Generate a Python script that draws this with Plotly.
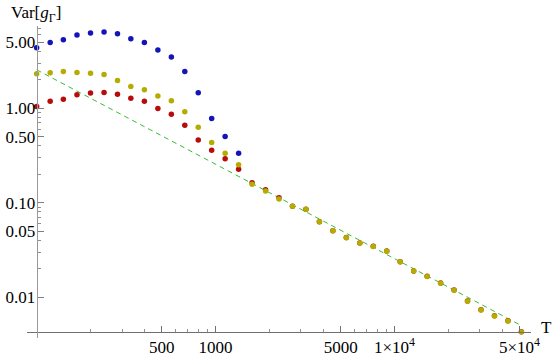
import plotly.graph_objects as go

# ---- data ----
T_vals = [100, 119, 141, 168, 200, 238, 283, 336, 400, 476, 566, 673, 800, 951,
          1131, 1345, 1600, 1903, 2263, 2691, 3200, 3805, 4525, 5382, 6400, 7611,
          9051, 10763, 12800, 15222, 18102, 21527, 25600, 30444, 36204, 43054, 51200]

blue_vals = [4.39, 4.99, 5.33, 5.98, 6.28, 6.44, 6.17, 5.47, 4.99, 4.15, 3.49,
             2.46, 1.46, 0.779, 0.502, 0.335]

yellow_vals = [2.32, 2.38, 2.46, 2.40, 2.36, 2.28, 1.97, 1.70, 1.57, 1.35, 1.20,
               0.918, 0.632, 0.434, 0.335, 0.253, 0.157, 0.133, 0.1095,
               0.0917, 0.0852, 0.0629, 0.0505, 0.0426, 0.0374, 0.0345, 0.0307,
               0.0237, 0.0189, 0.0166, 0.01406, 0.01186, 0.00906, 0.00732,
               0.00633, 0.00560, 0.00428]

red_vals = [1.045, 1.19, 1.25, 1.39, 1.45, 1.47, 1.41, 1.28, 1.19, 0.998, 0.868,
            0.663, 0.463, 0.360, 0.293, 0.226, 0.163, 0.1375, 0.113,
            0.0920, 0.0855, 0.0631, 0.0507, 0.0428, 0.0376, 0.0347, 0.0309,
            0.0238, 0.0190, 0.0167, 0.01412, 0.01190, 0.00910, 0.00735,
            0.00636, 0.00562, 0.00430]

# dashed reference line endpoints
line_T = [100, 51200]
line_vals = [2.56, 0.0050]

x_tickvals = [500, 1000, 5000, 10000, 50000]
x_ticktext = ["500", "1000", "5000", "1×10<sup>4</sup>", "5×10<sup>4</sup>"]
x_minor = [200, 300, 400, 600, 700, 800, 900, 2000, 3000, 4000, 6000, 7000,
           8000, 9000, 20000, 30000, 40000]

y_tickvals = [0.01, 0.05, 0.1, 0.5, 1, 5]
y_ticktext = ["0.01", "0.05", "0.10", "0.50", "1.00", "5.00"]
y_minor = [0.02, 0.03, 0.04, 0.06, 0.07, 0.08, 0.09, 0.2, 0.3, 0.4, 0.6, 0.7,
           0.8, 0.9, 2, 3, 4, 6, 7]

BLUE = "#1414b8"
YELLOW = "#b4ac00"
RED = "#b80c0c"
GREEN = "#38bb38"
FONT = "Liberation Serif, Times New Roman, DejaVu Serif, serif"
FS = 17

fig = go.Figure()
fig.add_trace(go.Scatter(x=line_T, y=line_vals, mode="lines",
                         line=dict(color=GREEN, width=1, dash="5px,4px"),
                         hoverinfo="skip"))
fig.add_trace(go.Scatter(x=T_vals[:len(blue_vals)], y=blue_vals, mode="markers",
                         marker=dict(color=BLUE, size=5.5, line=dict(width=0))))
fig.add_trace(go.Scatter(x=T_vals, y=red_vals, mode="markers",
                         marker=dict(color=RED, size=5.5, line=dict(width=0))))
fig.add_trace(go.Scatter(x=T_vals, y=yellow_vals, mode="markers",
                         marker=dict(color=YELLOW, size=5.5, line=dict(width=0))))

W, H = 554, 358
ml, mr, mt, mb = 27, 23.3, 26.3, 20.3
pw = W - ml - mr
ph = H - mt - mb

fig.update_layout(
    width=W, height=H,
    margin=dict(l=ml, r=mr, t=mt, b=mb, pad=0, autoexpand=False),
    paper_bgcolor="white", plot_bgcolor="white",
    showlegend=False,
    font=dict(family=FONT, size=FS, color="black"),
    xaxis=dict(type="log", range=[1.946, 4.763], showgrid=False, zeroline=False,
               automargin=False,
               showline=True, linecolor="#707070", linewidth=1,
               anchor="free", position=(337.7 - 331.7) / ph,
               tickmode="array", tickvals=x_tickvals, ticktext=x_ticktext,
               ticks="inside", ticklen=6, tickwidth=1, tickcolor="#707070",
               minor=dict(tickmode="array", tickvals=x_minor, ticks="inside",
                          ticklen=3, tickwidth=1, tickcolor="#909090"),
               tickfont=dict(family=FONT, size=FS, color="black")),
    yaxis=dict(type="log", range=[-2.432, 0.872], showgrid=False, zeroline=False,
               automargin=False,
               showline=True, linecolor="#9a9a9a", linewidth=1,
               anchor="free", position=(36.7 - ml) / pw,
               tickmode="array", tickvals=y_tickvals, ticktext=y_ticktext,
               ticks="inside", ticklen=6, tickwidth=1, tickcolor="#808080",
               ticklabelstandoff=-2,
               minor=dict(tickmode="array", tickvals=y_minor, ticks="inside",
                          ticklen=3, tickwidth=1, tickcolor="#909090"),
               tickfont=dict(family=FONT, size=FS, color="black")),
    annotations=[
        dict(text="Var[<i>g</i><sub>Γ</sub>]", xref="paper", yref="paper",
             x=(9 - ml) / pw, y=(H - mb - 1) / ph, xanchor="left", yanchor="top",
             showarrow=False, font=dict(family=FONT, size=FS, color="black")),
        dict(text="T", xref="paper", yref="paper",
             x=(546 - ml) / pw, y=(H - mb - 327) / ph, xanchor="center",
             yanchor="middle", showarrow=False,
             font=dict(family=FONT, size=FS, color="black")),
    ],
)

fig.write_html("out.html", config={"displayModeBar": False},
               post_script="document.body.style.margin='0';document.body.style.padding='0';")
